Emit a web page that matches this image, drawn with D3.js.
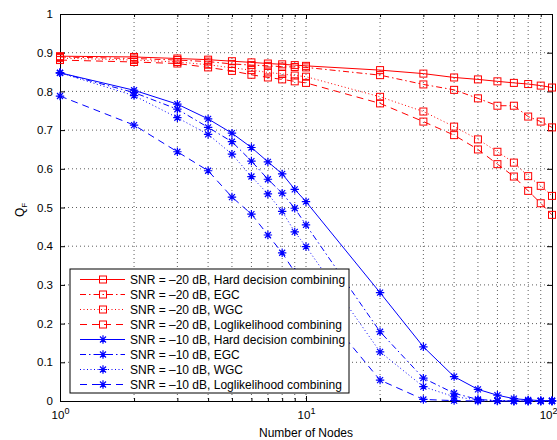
<!DOCTYPE html>
<html>
<head>
<meta charset="utf-8">
<script src="https://cdn.jsdelivr.net/npm/d3@7"></script>
<style>
  body { margin: 0; background: #fff; }
  svg { display: block; font-family: "Liberation Sans", Arial, sans-serif; }
</style>
</head>
<body>
<script>
const nodes = [1, 2, 3, 4, 5, 6, 7, 8, 9, 10, 20, 30, 40, 50, 60, 70, 80, 90, 100]

// SNR = -20 dB
const hard20 = [0.891, 0.889, 0.885, 0.882, 0.878, 0.875, 0.872, 0.870, 0.868, 0.866, 0.855, 0.846, 0.836, 0.831, 0.826, 0.822, 0.819, 0.815, 0.810]
const egc20 = [0.889, 0.885, 0.881, 0.877, 0.871, 0.868, 0.866, 0.864, 0.863, 0.862, 0.842, 0.818, 0.804, 0.782, 0.763, 0.763, 0.735, 0.722, 0.707]
const wgc20 = [0.886, 0.881, 0.876, 0.869, 0.861, 0.855, 0.849, 0.845, 0.841, 0.838, 0.786, 0.748, 0.709, 0.676, 0.644, 0.616, 0.581, 0.556, 0.530]
const ll20 = [0.881, 0.876, 0.872, 0.862, 0.853, 0.843, 0.836, 0.831, 0.826, 0.822, 0.769, 0.722, 0.687, 0.650, 0.612, 0.580, 0.543, 0.511, 0.481]

// SNR = -10 dB
const hard10 = [0.848, 0.803, 0.767, 0.729, 0.692, 0.655, 0.618, 0.587, 0.547, 0.515, 0.280, 0.140, 0.063, 0.030, 0.015, 0.006, 0.003, 0.001, 0.001]
const egc10 = [0.848, 0.797, 0.754, 0.707, 0.670, 0.620, 0.573, 0.537, 0.498, 0.455, 0.179, 0.059, 0.020, 0.004, 0.001, 0.000, 0.000, 0.000, 0.000]
const wgc10 = [0.848, 0.789, 0.732, 0.689, 0.638, 0.580, 0.535, 0.490, 0.437, 0.399, 0.127, 0.037, 0.011, 0.003, 0.001, 0.000, 0.000, 0.000, 0.000]
const ll10 = [0.788, 0.713, 0.644, 0.595, 0.527, 0.483, 0.429, 0.383, 0.333, 0.285, 0.054, 0.004, 0.001, 0.000, 0.000, 0.000, 0.000, 0.000, 0.000]

const yTicks = [0, 0.1, 0.2, 0.3, 0.4, 0.5, 0.6, 0.7, 0.8, 0.9, 1]
const xMajor = [1, 10, 100]
const xMinor = [2, 3, 4, 5, 6, 7, 8, 9, 20, 30, 40, 50, 60, 70, 80, 90]

const labels = [
  "SNR = \u201320 dB, Hard decision combining",
  "SNR = \u201320 dB, EGC",
  "SNR = \u201320 dB, WGC",
  "SNR = \u201320 dB, Loglikelihood combining",
  "SNR = \u201310 dB, Hard decision combining",
  "SNR = \u201310 dB, EGC",
  "SNR = \u201310 dB, WGC",
  "SNR = \u201310 dB, Loglikelihood combining"
]

const w = 557
const h = 440
const padL = 60, padR = 552, padT = 14, padB = 401

const dashes = { solid: null, dashdot: "6,3,1.5,3", dotted: "1,2.5", dashed: "7,5" }

const series = [
  { vals: hard20, color: "#ff0000", style: "solid", marker: "square" },
  { vals: egc20, color: "#ff0000", style: "dashdot", marker: "square" },
  { vals: wgc20, color: "#ff0000", style: "dotted", marker: "square" },
  { vals: ll20, color: "#ff0000", style: "dashed", marker: "square" },
  { vals: hard10, color: "#0000ff", style: "solid", marker: "star" },
  { vals: egc10, color: "#0000ff", style: "dashdot", marker: "star" },
  { vals: wgc10, color: "#0000ff", style: "dotted", marker: "star" },
  { vals: ll10, color: "#0000ff", style: "dashed", marker: "star" }
]

const svg = d3.select("body")
  .append("svg")
  .attr("width", w)
  .attr("height", h)

const xScale = d3.scaleLog().domain([1, 100]).range([padL, padR])
const yScale = d3.scaleLinear().domain([0, 1]).range([padB, padT])

//grid
const grid = svg.append("g")
  .attr("stroke", "#333")
  .attr("stroke-width", 0.8)
  .attr("stroke-dasharray", "1,3")
grid.selectAll(".gx")
  .data(xMajor.concat(xMinor).filter(d => d > 1 && d < 100))
  .enter()
  .append("line")
  .attr("x1", d => xScale(d)).attr("x2", d => xScale(d))
  .attr("y1", padT).attr("y2", padB)
grid.selectAll(".gy")
  .data(yTicks.filter(d => d > 0 && d < 1))
  .enter()
  .append("line")
  .attr("x1", padL).attr("x2", padR)
  .attr("y1", d => yScale(d)).attr("y2", d => yScale(d))

//axes (ticks inside, like matlab)
const yAxis = d3.axisLeft(yScale).tickValues(yTicks).tickSize(-5).tickPadding(7).tickFormat(d3.format("~g"))
svg.append("g")
  .attr("transform", "translate(" + padL + ",0)")
  .call(yAxis)
  .call(g => g.selectAll("text").attr("font-size", 11.5).attr("fill", "#000"))

svg.append("g")
  .attr("transform", "translate(" + padR + ",0)")
  .call(d3.axisRight(yScale).tickValues(yTicks).tickSize(-5).tickFormat(""))

const xAxis = d3.axisBottom(xScale).tickValues(xMajor).tickSize(-5).tickPadding(10)
  .tickFormat(d => Math.round(Math.log10(d)))
const gx = svg.append("g")
  .attr("transform", "translate(0," + padB + ")")
  .call(xAxis)
gx.selectAll("text")
  .attr("font-size", 11.5)
  .attr("fill", "#000")
  .attr("text-anchor", d => d === 100 ? "end" : "middle")
  .attr("x", d => d === 100 ? 5 : 0)
  .each(function(d) {
    const t = d3.select(this)
    const p = Math.round(Math.log10(d))
    t.text("")
    t.append("tspan").text("10")
    t.append("tspan").attr("font-size", 9).attr("dy", "-0.55em").text(p)
  })
svg.append("g")
  .attr("transform", "translate(0," + padB + ")")
  .call(d3.axisBottom(xScale).tickValues(xMinor).tickSize(-3).tickFormat(""))
svg.append("g")
  .attr("transform", "translate(0," + padT + ")")
  .call(d3.axisTop(xScale).tickValues(xMajor).tickSize(-5).tickFormat(""))
svg.append("g")
  .attr("transform", "translate(0," + padT + ")")
  .call(d3.axisTop(xScale).tickValues(xMinor).tickSize(-3).tickFormat(""))

svg.selectAll(".domain").attr("stroke", "#000")
svg.selectAll(".tick line").attr("stroke", "#000")

//lines
const line = d3.line()
  .x(d => xScale(d[0]))
  .y(d => yScale(d[1]))

function drawMarker(g, type, color) {
  if (type === "square") {
    g.append("rect")
      .attr("x", -3.5).attr("y", -3.5)
      .attr("width", 7).attr("height", 7)
      .attr("fill", "none")
      .attr("stroke", color)
  } else {
    const r = 4.2, r2 = 3
    g.append("path")
      .attr("d", "M" + -r + ",0H" + r + "M0," + -r + "V" + r +
        "M" + -r2 + "," + -r2 + "L" + r2 + "," + r2 + "M" + -r2 + "," + r2 + "L" + r2 + "," + -r2)
      .attr("fill", "none")
      .attr("stroke", color)
      .attr("stroke-width", 1.2)
  }
}

series.forEach(s => {
  const pts = nodes.map((n, i) => [n, s.vals[i]])
  svg.append("path")
    .datum(pts)
    .attr("d", line)
    .attr("fill", "none")
    .attr("stroke", s.color)
    .attr("stroke-width", 1)
    .attr("stroke-dasharray", dashes[s.style])
  svg.append("g")
    .selectAll("g")
    .data(pts)
    .enter()
    .append("g")
    .attr("transform", d => "translate(" + xScale(d[0]) + "," + yScale(d[1]) + ")")
    .each(function() { drawMarker(d3.select(this), s.marker, s.color) })
})

//legend
const lg = svg.append("g").attr("transform", "translate(70,269)")
lg.append("rect")
  .attr("width", 279).attr("height", 124)
  .attr("fill", "#fff")
  .attr("stroke", "#000")
const rows = lg.selectAll(".row")
  .data(series)
  .enter()
  .append("g")
  .attr("transform", (d, i) => "translate(0," + (10.5 + i * 15) + ")")
rows.append("line")
  .attr("x1", 10).attr("x2", 55)
  .attr("stroke", d => d.color)
  .attr("stroke-dasharray", d => dashes[d.style])
rows.append("g")
  .attr("transform", "translate(33,0)")
  .each(function(d) { drawMarker(d3.select(this), d.marker, d.color) })
rows.append("text")
  .attr("x", 60)
  .attr("dy", "0.35em")
  .attr("font-size", 12)
  .text((d, i) => labels[i])

//axis labels
svg.append("text")
  .attr("x", (padL + padR) / 2)
  .attr("y", 437)
  .attr("text-anchor", "middle")
  .attr("font-size", 12)
  .text("Number of Nodes")

const yl = svg.append("text")
  .attr("transform", "translate(24,210) rotate(-90)")
  .attr("text-anchor", "middle")
  .attr("font-size", 12)
yl.append("tspan").text("Q")
yl.append("tspan").attr("font-size", 8).attr("dy", "0.35em").text("F")
</script>
</body>
</html>
